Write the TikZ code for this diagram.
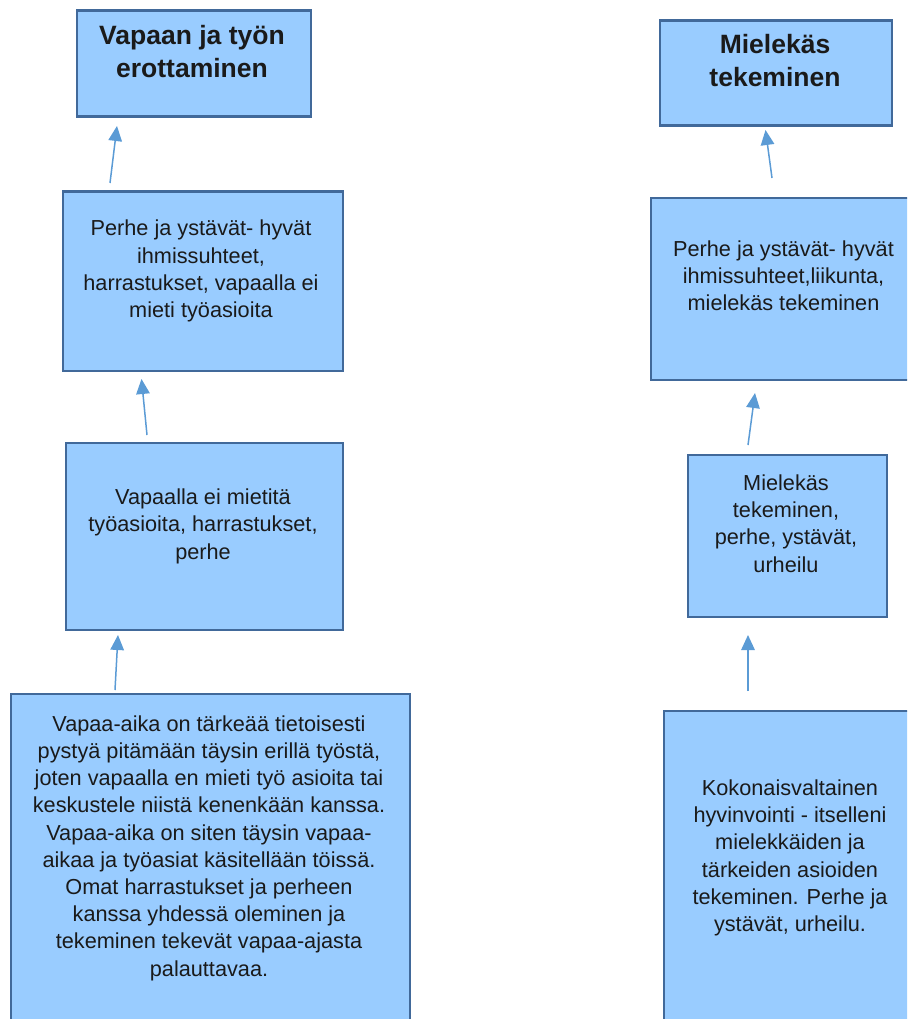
\documentclass[tikz,border=0pt]{standalone}
\usepackage{fontspec}
\setmainfont{Liberation Sans}
\usetikzlibrary{arrows.meta}
\definecolor{boxfill}{HTML}{99CCFF}
\definecolor{boxline}{HTML}{41699A}
\definecolor{arrowblue}{HTML}{5B9BD5}
\definecolor{ink}{HTML}{1A1A1A}
\tikzset{
  card/.style={draw=boxline, line width=2.8pt, fill=boxfill, rectangle,
    inner sep=0pt, anchor=north west},
  % multi-line texts are placed by the baseline of their last line
  headtext/.style={anchor=base, align=center, inner sep=0pt, text=ink,
    font=\fontsize{26.5}{33}\selectfont\bfseries},
  bodytext/.style={anchor=base, align=center, inner sep=0pt, text=ink,
    font=\fontsize{21.7}{27.2}\selectfont},
  uparrow/.style={draw=arrowblue, line width=1.5pt,
    -{Triangle[length=15pt,width=13.5pt]}, arrowblue},
}
\begin{document}
\begin{tikzpicture}[x=1pt,y=-1pt]
\useasboundingbox (0,0) rectangle (907,1019);
\clip (0,0) rectangle (907,1019);

% left column
\node[card, minimum width=234pt, minimum height=106pt] (l1) at (75.5,9.5) {};
\node[card, minimum width=280pt, minimum height=179pt] (l2) at (61.5,190.5) {};
\node[card, minimum width=277pt, minimum height=187pt] (l3) at (64.5,441.5) {};
\node[card, minimum width=399pt, minimum height=340pt] (l4) at (9.5,692.5) {};

% right column
\node[card, minimum width=232pt, minimum height=105pt] (r1) at (658.5,19.5) {};
\node[card, minimum width=280pt, minimum height=182pt] (r2) at (649.5,196.5) {};
\node[card, minimum width=199pt, minimum height=162pt] (r3) at (686.5,453.5) {};
\node[card, minimum width=280pt, minimum height=330pt] (r4) at (662.5,709.5) {};

% texts
\node[headtext] (l1t) at (192,78) {Vapaan ja työn\\erottaminen};
\node[bodytext] (l2t) at (201,317.5) {Perhe ja ystävät- hyvät\\ihmissuhteet,\\harrastukset, vapaalla ei\\mieti työasioita};
\node[bodytext] (l3t) at (203,559) {Vapaalla ei mietitä\\työasioita, harrastukset,\\perhe};
\node[bodytext] (l4t) at (209,976) {Vapaa-aika on tärkeää tietoisesti\\pystyä pitämään täysin erillä työstä,\\joten vapaalla en mieti työ asioita tai\\keskustele niistä kenenkään kanssa.\\Vapaa-aika on siten täysin vapaa-\\aikaa ja työasiat käsitellään töissä.\\Omat harrastukset ja perheen\\kanssa yhdessä oleminen ja\\tekeminen tekevät vapaa-ajasta\\palauttavaa.};

\node[headtext] (r1t) at (775,87) {Mielekäs\\tekeminen};
\node[bodytext] (r2t) at (783.5,310.5) {Perhe ja ystävät- hyvät\\ihmissuhteet,liikunta,\\mielekäs tekeminen};
\node[bodytext] (r3t) at (786,572) {Mielekäs\\tekeminen,\\perhe, ystävät,\\urheilu};
\node[bodytext] (r4t) at (790,931.5) {Kokonaisvaltainen\\hyvinvointi - itselleni\\mielekkäiden ja\\tärkeiden asioiden\\tekeminen. Perhe ja\\ystävät, urheilu.};

% connector end points between the cards
\coordinate (a1s) at (110,183);   \coordinate (a1e) at (117,126);
\coordinate (a2s) at (147,435);   \coordinate (a2e) at (141.5,379);
\coordinate (a3s) at (115,690);   \coordinate (a3e) at (118,635);
\coordinate (a4s) at (772,178);   \coordinate (a4e) at (765.5,130);
\coordinate (a5s) at (748,445);   \coordinate (a5e) at (755,393);
\coordinate (a6s) at (748,691);   \coordinate (a6e) at (748,635);

\draw[uparrow] (a1s) -- (a1e);
\draw[uparrow] (a2s) -- (a2e);
\draw[uparrow] (a3s) -- (a3e);
\draw[uparrow] (a4s) -- (a4e);
\draw[uparrow] (a5s) -- (a5e);
\draw[uparrow] (a6s) -- (a6e);
\end{tikzpicture}
\end{document}
